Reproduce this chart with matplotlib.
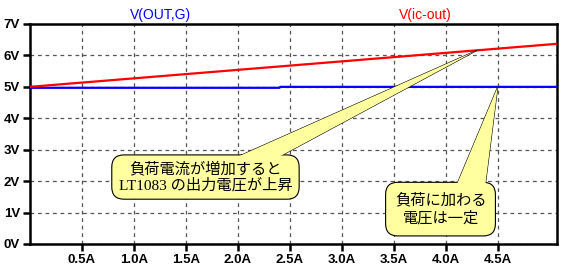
import matplotlib
matplotlib.use("Agg")
import matplotlib.pyplot as plt
from matplotlib.patches import Polygon
import numpy as np

# load current (A) and voltages (V)
current = [0.0, 2.4, 2.41, 5.07]
v_out_g = [4.97, 4.97, 5.0, 5.0]
current_ic = [0.0, 5.07]
v_ic_out = [5.0, 6.37]

x_ticks = [0.5, 1.0, 1.5, 2.0, 2.5, 3.0, 3.5, 4.0, 4.5]
x_labels = ["0.5A", "1.0A", "1.5A", "2.0A", "2.5A", "3.0A", "3.5A", "4.0A", "4.5A"]
y_ticks = [0, 1, 2, 3, 4, 5, 6, 7]
y_labels = ["0V", "1V", "2V", "3V", "4V", "5V", "6V", "7V"]

note_rise = "負荷電流が増加すると\nLT1083 の出力電圧が上昇"
note_const = "負荷に加わる\n電圧は一定"

plt.rcParams["font.family"] = ["Liberation Sans", "DejaVu Sans"]

fig = plt.figure(figsize=(5.70, 2.77), dpi=100)
ax = fig.add_axes([29.7 / 570, 33 / 277, (557 - 29.7) / 570, (244 - 24) / 277])

ax.plot(current, v_out_g, color="#0000ff", linewidth=1.6, zorder=3)
ax.plot(current_ic, v_ic_out, color="#ff0000", linewidth=1.6, zorder=3)

ax.set_xlim(0, 5.07)
ax.set_ylim(0, 7)
ax.set_xticks(x_ticks)
ax.set_xticklabels(x_labels, fontsize=9.5, fontweight="bold")
ax.set_yticks(y_ticks)
ax.set_yticklabels(y_labels, fontsize=9.5, fontweight="bold")
ax.tick_params(direction="out", length=5, width=1.8, pad=2, colors="black")
ax.grid(True, color="#555555", linestyle=(0, (3, 3)), linewidth=0.9)
for spine in ax.spines.values():
    spine.set_linewidth(1.8)

fig.text(160 / 570, 1 - 15 / 277, "V(OUT,G)", color="#0000ff", fontsize=10,
         ha="center", va="center")
fig.text(425 / 570, 1 - 15 / 277, "V(ic-out)", color="#ff0000", fontsize=10,
         ha="center", va="center")


def callout(text, center, tip, base_x, base_y, pad, family):
    fill = "#ffffa0"
    wedge = [(base_x[0], base_y), tip, (base_x[1], base_y)]
    # outlined wedge under the box, fill-only copy on top hides the box edge
    ax.add_patch(Polygon(wedge, closed=True, fc=fill, ec="black", lw=0.8,
                         zorder=4))
    ax.text(center[0], center[1], text, fontsize=11, ha="center", va="center",
            linespacing=1.1, family=family, color="none", zorder=4.5,
            bbox=dict(boxstyle="round,pad=%s,rounding_size=0.8" % pad,
                      fc=fill, ec="black", lw=0.8))
    ax.add_patch(Polygon(wedge, closed=True, fc=fill, ec="none", zorder=5))
    ax.text(center[0], center[1], text, fontsize=11, ha="center", va="center",
            linespacing=1.1, family=family, color="black", zorder=6)


tip_x = 4.3
tip = (tip_x, np.interp(tip_x, current_ic, v_ic_out))
callout(note_rise, (1.69, 2.13), tip, (1.88, 2.3), 2.6, 0.45,
        ["Liberation Serif", "Noto Sans CJK JP"])

tip2_x = 4.5
tip2 = (tip2_x, np.interp(tip2_x, current, v_out_g))
callout(note_const, (3.95, 1.11), tip2, (4.07, 4.37), 1.6, 0.6,
        ["Noto Sans CJK JP"])

fig.savefig("out.png", dpi=100)
